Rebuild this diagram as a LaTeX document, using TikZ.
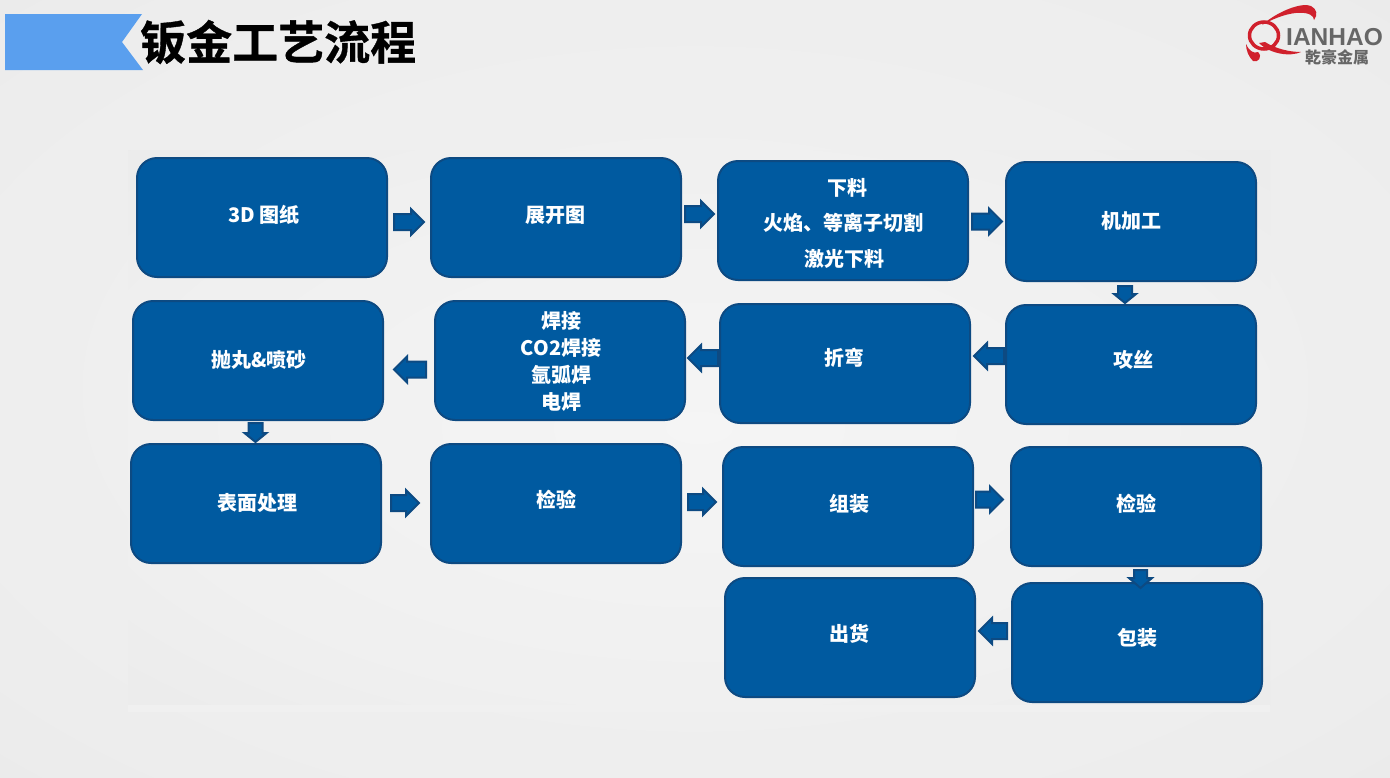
\documentclass[tikz,border=0pt]{standalone}
\usepackage{fontspec}
\usetikzlibrary{calc}
\setmainfont{Noto Sans CJK SC}
\newfontfamily\logofont{Liberation Sans}
\newfontfamily\titlefont[FakeBold=0.8]{Noto Sans CJK SC Bold}
\definecolor{boxfill}{HTML}{005AA0}
\definecolor{boxedge}{HTML}{0D4A82}
\definecolor{logored}{HTML}{D0202C}
\definecolor{logogrey}{HTML}{666666}
\definecolor{headband}{HTML}{5A9FEE}
\pgfdeclareradialshading{pagebg}{\pgfpoint{0bp}{0bp}}{color(0bp)=(white!95!black); color(30bp)=(white!93!black); color(50bp)=(white!90!black); color(70bp)=(white!86!black)}
\pgfdeclareradialshading{panelbg}{\pgfpoint{0bp}{0bp}}{color(0bp)=(white!96!black); color(25bp)=(white!94!black); color(50bp)=(white!90!black); color(70bp)=(white!89!black)}
\tikzset{
 x=1pt,y=-1pt,
 procbox/.style={draw=boxedge,line width=2pt,fill=boxfill,rounded corners=20pt,inner sep=0pt,minimum width=250pt,minimum height=119pt},
 proclabel/.style={text=white,font=\bfseries\fontsize{20}{24}\selectfont,align=center,inner sep=0pt},
 arrowshape/.style={draw=boxedge,line width=2pt,fill=boxfill,line join=miter},
}
\newcommand{\mybox}[5]{\node[procbox] (#1) at (#2,#3) {};\node[proclabel] (#1t) at (#4) {#5};}
% block arrow from point #4 to point #5; #1 head length, #2 head half width, #3 shaft half width
\newcommand{\barrow}[5]{%
 \coordinate (s0) at #4;\coordinate (e0) at #5;
 \coordinate (s) at ($(s0)!1pt!(e0)$);\coordinate (e) at ($(e0)!2pt!(s0)$);
 \coordinate (h) at ($(e)!#1pt!(s)$);
 \draw[arrowshape] ($(s)!#3pt!90:(e)$) -- ($(h)!#3pt!90:(e)$) -- ($(h)!#2pt!90:(e)$) -- (e) -- ($(h)!#2pt!-90:(e)$) -- ($(h)!#3pt!-90:(e)$) -- ($(s)!#3pt!-90:(e)$) -- cycle;}
\begin{document}
\begin{tikzpicture}
\useasboundingbox (0,0) rectangle (1390,777);
\shade[shading=pagebg] (0,0) rectangle (1390,777);
\shade[shading=panelbg] (128,150) rectangle (1270,705);
\fill[white!94!black] (128,705) rectangle (1270,712);
% header
\fill[headband] (5,14) -- (142,14) -- (122,42) -- (143,70) -- (5,70) -- cycle;
\node[anchor=west,inner sep=0pt,text=black,font=\titlefont\fontsize{46}{50}\selectfont] (title) at (140,42) {钣金工艺流程};
% logo
\draw[logored,line width=3.5pt] (1264,35.5) ellipse (14.5pt and 13.5pt);
\fill[logored] (1262,25) .. controls (1278,11) and (1302,2) .. (1311,6) .. controls (1317,9) and (1318,15) .. (1314,20) .. controls (1314,11) and (1292,8) .. (1262,25) -- cycle;
\fill[logored] (1259,43) -- (1265,42) .. controls (1276,49) and (1290,52) .. (1301,52) .. controls (1290,57) and (1270,54) .. (1259,43) -- cycle;
\fill[logored] (1246,44) .. controls (1249,51) and (1254,54) .. (1258,52) .. controls (1263,57) and (1258,63) .. (1253,61) .. controls (1249,57) and (1246,51) .. (1246,44) -- cycle;
\node[anchor=west,inner sep=0pt,text=logogrey,font=\logofont\bfseries\fontsize{24.5}{28}\selectfont] (logoa) at (1286,37) {IANHAO};
\node[anchor=west,inner sep=0pt,text=logogrey,font=\bfseries\fontsize{16}{18}\selectfont] (logob) at (1305,57) {乾豪金属};
% boxes
\mybox{b1}{262}{217.5}{264,215}{3D 图纸}
\mybox{b2}{556}{217.5}{555,215}{展开图}
\mybox{b3}{843}{220.5}{843,223}{\hspace{9pt}下料\\[11.5pt]火焰、等离子切割\\[11.5pt]\hspace{3pt}激光下料}
\mybox{b4}{1131}{221.5}{1131,221}{机加工}
\mybox{b5}{1131}{364.5}{1133,360}{攻丝}
\mybox{b6}{845}{363.5}{844,358}{折弯}
\mybox{b7}{560}{360.5}{561,361}{焊接\\[3pt]CO2焊接\\[3pt]氩弧焊\\[3pt]电焊}
\mybox{b8}{258}{360.5}{259,360}{抛丸\&喷砂}
\mybox{b9}{256}{503.5}{257,503}{表面处理}
\mybox{b10}{556}{503.5}{556,500}{检验}
\mybox{b11}{848}{506.5}{849,504}{组装}
\mybox{b12}{1136}{506.5}{1136,504}{检验}
\mybox{b13}{1137}{642.5}{1137,638}{包装}
\mybox{b14}{850}{637.5}{849,634}{出货}
% arrows
\barrow{13}{13}{8}{($(b1.east)+(5,4.5)$)}{($(b2.west)+(-4,4.5)$)}
\barrow{13}{13}{8}{($(b2.east)+(2,-3.5)$)}{($(b3.west)+(-1,-6.5)$)}
\barrow{13}{13}{8}{($(b3.east)+(2,1)$)}{($(b4.west)+(-1,0)$)}
\barrow{9}{11}{7}{($(b4.south)+(-6,3)$)}{($(b5.north)+(-6,1)$)}
\barrow{13}{13}{8}{($(b5.west)+(0,-8.5)$)}{($(b6.east)+(1,-7.5)$)}
\barrow{13}{13}{8}{($(b6.west)+(0,-5.5)$)}{($(b7.east)+(0,-2.5)$)}
\barrow{13}{13}{8}{($(b7.west)+(-7,9)$)}{($(b8.east)+(8,9)$)}
\barrow{9}{11}{7}{($(b8.south)+(-2.5,1)$)}{($(b9.north)+(-0.5,1)$)}
\barrow{13}{13}{8}{($(b9.east)+(8,-0.5)$)}{($(b10.west)+(-9,-0.5)$)}
\barrow{13}{13}{8}{($(b10.east)+(5,-1.5)$)}{($(b11.west)+(-4,-4.5)$)}
\barrow{13}{13}{8}{($(b11.east)+(1,-7)$)}{($(b12.west)+(-5,-7)$)}
\barrow{10}{11.5}{6.5}{($(b12.south)+(4.5,2)$)}{($(b13.north)+(3.5,8)$)}
\barrow{13}{13}{8}{($(b13.west)+(-3,-11.5)$)}{($(b14.east)+(1,-6.5)$)}
\end{tikzpicture}
\end{document}
